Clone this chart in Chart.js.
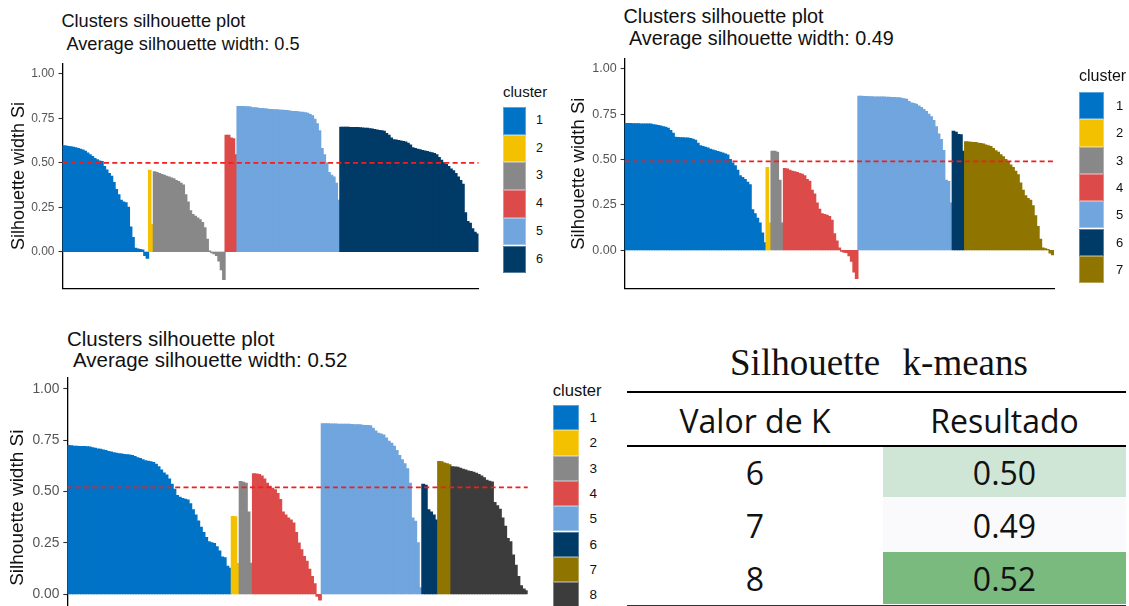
<!DOCTYPE html>
<html>
<head>
<meta charset="utf-8">
<title>Silhouette k-means</title>
<script src="https://cdn.jsdelivr.net/npm/chart.js@4.4.0/dist/chart.umd.min.js"></script>
<style>
  html, body { margin: 0; padding: 0; background: #fff; }
  body { width: 1129px; height: 606px; overflow: hidden; position: relative; font-family: "Liberation Sans", Arial, sans-serif; }
  canvas { position: absolute; }
  .txt { position: absolute; white-space: pre; line-height: 1; color: #111; }
  .box { position: absolute; }
  .rule { position: absolute; left: 627px; width: 499px; height: 2px; background: #000; }
  .cell { position: absolute; text-align: center; font-family: "Open Sans", sans-serif; font-size: 32px; line-height: 32px; color: #111; white-space: nowrap; }
</style>
</head>
<body>
<script>
const FONT = '"Liberation Sans", Arial, sans-serif';

// cluster legend
const clusterNames = ['1', '2', '3', '4', '5', '6', '7', '8'];
const clusterColors = ['#0073C7', '#F3C100', '#888888', '#DC4B49', '#70A5DE', '#003A66', '#8F7500', '#3C3C3C'];
const yTicks = [0, 0.25, 0.5, 0.75, 1];
const avgWidths = [0.5, 0.49, 0.52];

// k = 6 silhouette widths, one list per cluster (sorted as in the plot)
const k6c1 = [0.596, 0.595, 0.592, 0.590, 0.588, 0.585, 0.580, 0.577, 0.572, 0.565, 0.555, 0.545, 0.535, 0.525, 0.518, 0.510, 0.508, 0.480, 0.460, 0.440, 0.425, 0.390, 0.350, 0.320, 0.290, 0.280, 0.275, 0.250, 0.140, 0.080, 0.020, 0.015, 0.013, 0.010, -0.020, -0.035];
const k6c2 = [0.458, 0.153];
const k6c3 = [0.450, 0.445, 0.440, 0.435, 0.430, 0.425, 0.420, 0.415, 0.410, 0.400, 0.395, 0.385, 0.375, 0.320, 0.280, 0.230, 0.210, 0.200, 0.190, 0.180, 0.165, 0.135, 0.070, 0.005, -0.005, -0.010, -0.020, -0.050, -0.100, -0.155];
const k6c4 = [0.655, 0.655, 0.640, 0.635, 0.545];
const k6c5 = [0.817, 0.817, 0.816, 0.815, 0.815, 0.814, 0.810, 0.810, 0.808, 0.806, 0.805, 0.804, 0.803, 0.800, 0.800, 0.799, 0.798, 0.797, 0.796, 0.795, 0.794, 0.793, 0.790, 0.789, 0.788, 0.787, 0.785, 0.784, 0.782, 0.778, 0.772, 0.765, 0.745, 0.720, 0.680, 0.580, 0.545, 0.500, 0.445, 0.430, 0.420, 0.385, 0.290];
const k6c6 = [0.700, 0.700, 0.700, 0.700, 0.699, 0.699, 0.698, 0.698, 0.697, 0.696, 0.695, 0.694, 0.692, 0.690, 0.688, 0.685, 0.682, 0.680, 0.678, 0.665, 0.655, 0.640, 0.630, 0.628, 0.625, 0.622, 0.620, 0.617, 0.610, 0.600, 0.585, 0.580, 0.577, 0.574, 0.570, 0.567, 0.564, 0.560, 0.556, 0.552, 0.545, 0.530, 0.515, 0.500, 0.490, 0.480, 0.465, 0.455, 0.440, 0.420, 0.400, 0.380, 0.220, 0.170, 0.160, 0.130, 0.110, 0.100];

// k = 7
const k7c1 = [0.698, 0.698, 0.698, 0.697, 0.697, 0.697, 0.696, 0.696, 0.696, 0.695, 0.695, 0.692, 0.690, 0.687, 0.684, 0.680, 0.677, 0.672, 0.660, 0.645, 0.622, 0.621, 0.620, 0.620, 0.619, 0.618, 0.615, 0.612, 0.606, 0.590, 0.575, 0.572, 0.568, 0.563, 0.557, 0.552, 0.548, 0.544, 0.540, 0.535, 0.530, 0.525, 0.500, 0.480, 0.465, 0.440, 0.410, 0.400, 0.390, 0.375, 0.360, 0.222, 0.200, 0.176, 0.149, 0.095, 0.040];
const k7c2 = [0.455, 0.150];
const k7c3 = [0.545, 0.545, 0.540, 0.385, 0.150];
const k7c4 = [0.450, 0.448, 0.440, 0.435, 0.432, 0.428, 0.422, 0.418, 0.410, 0.390, 0.380, 0.330, 0.310, 0.260, 0.225, 0.200, 0.197, 0.193, 0.186, 0.165, 0.090, 0.050, 0.012, -0.005, -0.010, -0.012, -0.030, -0.060, -0.120, -0.155];
const k7c5 = [0.848, 0.848, 0.847, 0.847, 0.846, 0.846, 0.845, 0.845, 0.845, 0.844, 0.844, 0.843, 0.843, 0.842, 0.842, 0.841, 0.840, 0.838, 0.835, 0.832, 0.820, 0.812, 0.808, 0.805, 0.795, 0.786, 0.775, 0.765, 0.750, 0.735, 0.715, 0.680, 0.640, 0.610, 0.550, 0.385, 0.378, 0.260];
const k7c6 = [0.655, 0.650, 0.638, 0.636, 0.545];
const k7c7 = [0.597, 0.596, 0.595, 0.594, 0.593, 0.590, 0.588, 0.585, 0.580, 0.576, 0.572, 0.560, 0.548, 0.540, 0.526, 0.515, 0.500, 0.485, 0.470, 0.455, 0.435, 0.415, 0.370, 0.330, 0.300, 0.285, 0.275, 0.245, 0.190, 0.130, 0.060, 0.012, 0.008, 0.004, -0.015, -0.025];

// k = 8
const k8c1 = [0.724, 0.723, 0.720, 0.720, 0.719, 0.719, 0.719, 0.718, 0.716, 0.713, 0.710, 0.707, 0.705, 0.702, 0.699, 0.695, 0.692, 0.689, 0.686, 0.684, 0.682, 0.680, 0.679, 0.677, 0.675, 0.670, 0.664, 0.660, 0.655, 0.650, 0.647, 0.645, 0.641, 0.632, 0.620, 0.605, 0.590, 0.580, 0.560, 0.535, 0.510, 0.480, 0.472, 0.466, 0.462, 0.458, 0.440, 0.410, 0.385, 0.356, 0.325, 0.300, 0.275, 0.255, 0.250, 0.246, 0.230, 0.210, 0.180, 0.176, 0.135, 0.125];
const k8c2 = [0.378, 0.376, 0.148];
const k8c3 = [0.548, 0.545, 0.540, 0.400, 0.150];
const k8c4 = [0.586, 0.585, 0.582, 0.575, 0.560, 0.540, 0.525, 0.515, 0.508, 0.490, 0.460, 0.400, 0.385, 0.370, 0.360, 0.346, 0.300, 0.248, 0.215, 0.183, 0.160, 0.120, 0.085, 0.050, -0.010, -0.028];
const k8c5 = [0.830, 0.830, 0.830, 0.829, 0.829, 0.829, 0.828, 0.828, 0.828, 0.827, 0.827, 0.826, 0.825, 0.825, 0.825, 0.823, 0.822, 0.821, 0.820, 0.808, 0.795, 0.784, 0.780, 0.775, 0.760, 0.745, 0.735, 0.720, 0.700, 0.675, 0.655, 0.635, 0.610, 0.540, 0.370, 0.354, 0.250, 0.030];
const k8c6 = [0.535, 0.530, 0.410, 0.400, 0.385, 0.360];
const k8c7 = [0.646, 0.645, 0.638, 0.635, 0.630];
const k8c8 = [0.620, 0.619, 0.618, 0.613, 0.608, 0.604, 0.600, 0.597, 0.593, 0.588, 0.582, 0.575, 0.567, 0.555, 0.550, 0.546, 0.446, 0.430, 0.413, 0.370, 0.330, 0.270, 0.255, 0.190, 0.140, 0.085, 0.040, 0.024, 0.016];

// summary table
const tableTitle = 'Silhouette  k-means';
const tableHeader = ['Valor de K', 'Resultado'];
const kValues = [6, 7, 8];
const kResults = [0.50, 0.49, 0.52];
const resultFill = ['#CFE6D6', '#FAFAFC', '#7BBA7E'];

// Flatten clusters into one bar series with a colour per bar
function buildBars(clusters) {
  const values = [], colors = [], labels = [];
  clusters.forEach((c, ci) => {
    c.forEach(v => {
      values.push(v);
      colors.push(clusterColors[ci]);
      labels.push(String(labels.length + 1));
    });
  });
  return { values, colors, labels };
}

// Red dashed line at the average silhouette width
const avgLinePlugin = {
  id: 'avgLine',
  afterDatasetsDraw(chart, args, opts) {
    const { ctx, chartArea, scales } = chart;
    const y = scales.y.getPixelForValue(opts.value);
    ctx.save();
    ctx.strokeStyle = '#F01E1E';
    ctx.lineWidth = 1.8;
    ctx.setLineDash([5, 3.3]);
    ctx.beginPath();
    ctx.moveTo(chartArea.left, y);
    ctx.lineTo(chartArea.right, y);
    ctx.stroke();
    ctx.restore();
  }
};

function addText(text, left, top, size, extra) {
  const d = document.createElement('div');
  d.className = 'txt';
  d.textContent = text;
  d.style.left = left + 'px';
  d.style.top = top + 'px';
  d.style.fontSize = size + 'px';
  if (extra) Object.assign(d.style, extra);
  document.body.appendChild(d);
  return d;
}

function makePlot(cfg) {
  // title + subtitle
  addText('Clusters silhouette plot', cfg.title.x1, cfg.title.y1, cfg.title.size);
  addText('Average silhouette width: ' + cfg.avg, cfg.title.x2, cfg.title.y2, cfg.title.size);

  const canvas = document.createElement('canvas');
  canvas.width = cfg.w;
  canvas.height = cfg.h;
  canvas.style.left = cfg.left + 'px';
  canvas.style.top = cfg.top + 'px';
  canvas.style.width = cfg.w + 'px';
  canvas.style.height = cfg.h + 'px';
  document.body.appendChild(canvas);

  const bars = buildBars(cfg.clusters);

  new Chart(canvas, {
    type: 'bar',
    data: {
      labels: bars.labels,
      datasets: [{
        data: bars.values,
        backgroundColor: bars.colors,
        borderWidth: 0,
        barPercentage: 1,
        categoryPercentage: 1,
        inflateAmount: 0.6
      }]
    },
    options: {
      responsive: false,
      animation: false,
      devicePixelRatio: 1,
      layout: { padding: cfg.pad },
      plugins: {
        legend: { display: false },
        tooltip: { enabled: false },
        avgLine: { value: cfg.avg }
      },
      scales: {
        x: {
          display: true,
          grid: { display: false, drawTicks: false },
          ticks: { display: false },
          border: { display: true, color: '#000', width: 1.3 }
        },
        y: {
          min: cfg.yMin,
          max: cfg.yMax,
          afterBuildTicks: s => { s.ticks = yTicks.map(v => ({ value: v })); },
          afterFit: s => { s.width = cfg.axisW; },
          ticks: {
            autoSkip: false,
            padding: 4,
            color: '#555',
            font: { family: FONT, size: cfg.tickSize },
            callback: v => Number(v).toFixed(2)
          },
          grid: { drawOnChartArea: false, drawTicks: true, tickLength: 4, tickColor: '#333', tickWidth: 1.1 },
          border: { display: true, color: '#000', width: 1.3 },
          title: {
            display: true,
            text: 'Silhouette width Si',
            color: '#111',
            font: { family: FONT, size: cfg.axisTitleSize },
            padding: { top: cfg.axisTitlePad, bottom: 0 }
          }
        }
      }
    },
    plugins: [avgLinePlugin]
  });

  // ggplot style legend
  const lg = cfg.legend;
  addText('cluster', lg.x, lg.titleTop, lg.titleSize);
  cfg.clusters.forEach((c, i) => {
    const k = document.createElement('div');
    k.className = 'box';
    k.style.left = lg.x + 'px';
    k.style.top = (lg.keyTop + i * lg.keyH) + 'px';
    k.style.width = lg.keyW + 'px';
    k.style.height = lg.keyH + 'px';
    k.style.background = clusterColors[i];
    k.style.boxShadow = 'inset 0 0 0 1px rgba(255,255,255,0.35)';
    document.body.appendChild(k);
    addText(clusterNames[i], lg.labX, lg.keyTop + i * lg.keyH, lg.labSize,
      { lineHeight: lg.keyH + 'px' });
  });
}

makePlot({
  clusters: [k6c1, k6c2, k6c3, k6c4, k6c5, k6c6],
  avg: avgWidths[0],
  left: 0, top: 0, w: 500, h: 300,
  pad: { top: 63.3, right: 21.5, bottom: 10.7, left: 0 },
  axisW: 62.5, yMin: -0.2075, yMax: 1.06,
  tickSize: 12, axisTitleSize: 18, axisTitlePad: 7.8,
  title: { x1: 61.4, y1: 11.9, x2: 66.4, y2: 34.6, size: 18.2 },
  legend: { x: 503, titleTop: 84, titleSize: 15, keyTop: 107, keyW: 23, keyH: 27.7, labX: 536, labSize: 12.5 }
});

makePlot({
  clusters: [k7c1, k7c2, k7c3, k7c4, k7c5, k7c6, k7c7],
  avg: avgWidths[1],
  left: 560, top: 0, w: 520, h: 300,
  pad: { top: 59, right: 26, bottom: 9, left: 0 },
  axisW: 64.6, yMin: -0.2111, yMax: 1.0546,
  tickSize: 12.5, axisTitleSize: 18.5, axisTitlePad: 7.8,
  title: { x1: 623.5, y1: 6.5, x2: 629, y2: 29.2, size: 19.8 },
  legend: { x: 1079, titleTop: 68.2, titleSize: 16, keyTop: 92, keyW: 25, keyH: 27.3, labX: 1116, labSize: 13 }
});

makePlot({
  clusters: [k8c1, k8c2, k8c3, k8c4, k8c5, k8c6, k8c7, k8c8],
  avg: avgWidths[2],
  left: 0, top: 320, w: 545, h: 330,
  pad: { top: 57.7, right: 17.3, bottom: 12, left: 0 },
  axisW: 67.3, yMin: -0.213, yMax: 1.055,
  tickSize: 13.8, axisTitleSize: 19, axisTitlePad: 6.4,
  title: { x1: 67, y1: 328.6, x2: 73, y2: 349.6, size: 20.5 },
  legend: { x: 552.7, titleTop: 382.6, titleSize: 16.6, keyTop: 405, keyW: 26.6, keyH: 25.3, labX: 589.5, labSize: 13.5 }
});

// Summary table (bottom right)
function makeTable() {
  addText(tableTitle, 629, 344, 37, {
    width: '500px', textAlign: 'center',
    fontFamily: '"Liberation Serif", "Times New Roman", serif', wordSpacing: '2px'
  });

  [390.7, 445, 604.5].forEach((y, i) => {
    const r = document.createElement('div');
    r.className = 'rule';
    r.style.top = y + 'px';
    if (i === 2) r.style.background = '#333';
    document.body.appendChild(r);
  });

  const rowTops = [447, 496.7, 551.7, 604.5];
  const textTops = [456.6, 509.9, 563.3];
  const colLeft = [627, 883];
  const colW = [256, 243];

  const addCell = (text, col, top) => {
    const d = document.createElement('div');
    d.className = 'cell';
    d.textContent = text;
    d.style.left = colLeft[col] + 'px';
    d.style.width = colW[col] + 'px';
    d.style.top = top + 'px';
    document.body.appendChild(d);
  };

  tableHeader.forEach((h, i) => addCell(h, i, 404.9));

  kValues.forEach((k, i) => {
    const bg = document.createElement('div');
    bg.className = 'box';
    bg.style.left = colLeft[1] + 'px';
    bg.style.width = colW[1] + 'px';
    bg.style.top = rowTops[i] + 'px';
    bg.style.height = (rowTops[i + 1] - rowTops[i]) + 'px';
    bg.style.background = resultFill[i];
    document.body.appendChild(bg);
    addCell(String(k), 0, textTops[i]);
    addCell(kResults[i].toFixed(2), 1, textTops[i]);
  });
}

makeTable();
</script>
</body>
</html>
